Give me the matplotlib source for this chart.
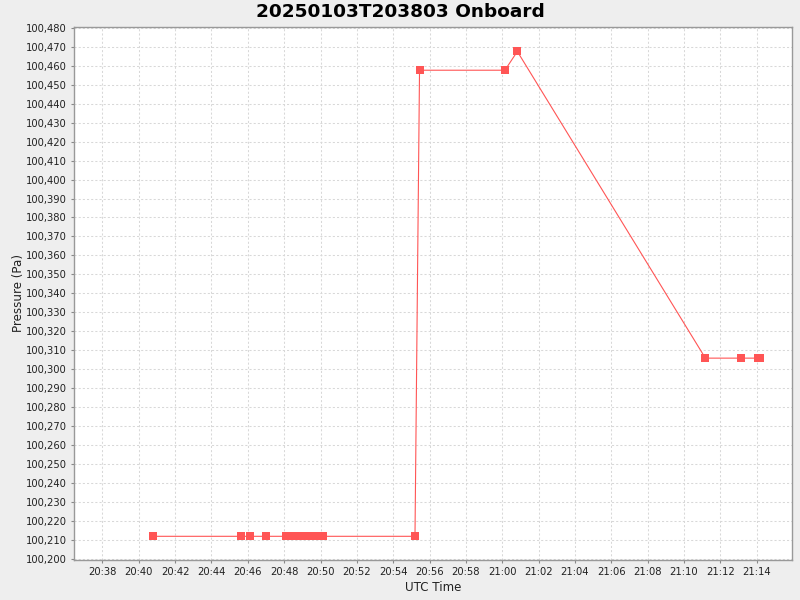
import matplotlib
matplotlib.use("Agg")
import matplotlib.pyplot as plt
import matplotlib.dates as mdates
from matplotlib.ticker import FuncFormatter, MultipleLocator
from datetime import datetime

day = "2025-01-03 "
times = [
    "20:40:47", "20:45:38", "20:46:08", "20:47:01",
    "20:48:07", "20:48:17", "20:48:27", "20:48:37", "20:48:47", "20:48:57",
    "20:49:07", "20:49:17", "20:49:27", "20:49:37", "20:49:47", "20:49:57", "20:50:08",
    "20:55:12", "20:55:27", "21:00:09", "21:00:50",
    "21:11:11", "21:13:10", "21:14:05", "21:14:11",
]
pressure = [
    100211.8, 100211.8, 100211.8, 100211.8,
    100211.8, 100211.8, 100211.8, 100211.8, 100211.8, 100211.8,
    100211.8, 100211.8, 100211.8, 100211.8, 100211.8, 100211.8, 100211.8,
    100211.8, 100457.7, 100457.7, 100467.6,
    100305.8, 100305.8, 100305.8, 100305.8,
]
title = "20250103T203803 Onboard"
x_label = "UTC Time"
y_label = "Pressure (Pa)"

t = [datetime.strptime(day + s, "%Y-%m-%d %H:%M:%S") for s in times]

fig = plt.figure(figsize=(8, 6), dpi=100, facecolor="#EEEEEE")
ax = fig.add_axes([74/800, 1-560/600, (792-74)/800, (560-27)/600])
ax.set_facecolor("white")

ax.plot(t, pressure, color="#FF5555", lw=0.8, marker="s", markersize=5.6,
        markeredgewidth=0, zorder=3)

ax.set_xlim(datetime(2025, 1, 3, 20, 36, 26), datetime(2025, 1, 3, 21, 15, 57))
ax.set_ylim(100199.3, 100480.5)

ax.xaxis.set_major_locator(mdates.MinuteLocator(byminute=range(0, 60, 2)))
ax.xaxis.set_major_formatter(mdates.DateFormatter("%H:%M"))
ax.yaxis.set_major_locator(MultipleLocator(10))
ax.yaxis.set_major_formatter(FuncFormatter(lambda v, p: f"{v:,.0f}"))

ax.grid(True, color="#D8D8D8", linestyle=(0, (2, 2)), linewidth=0.75)
ax.set_axisbelow(True)

for s in ax.spines.values():
    s.set_color("#999999")
    s.set_linewidth(1)
ax.tick_params(axis="both", which="major", length=2, width=0.8, color="#888888",
               labelsize=7.2, labelcolor="#222222", pad=3)

fig.text(0.5, 1 - 12/600, title, fontsize=13.3, fontweight="bold",
         ha="center", va="center")
ax.set_xlabel(x_label, fontsize=8.6, labelpad=3, color="#222222")
ax.set_ylabel(y_label, fontsize=8.6, labelpad=1, color="#222222")

fig.savefig("out.png", dpi=100, facecolor=fig.get_facecolor())
